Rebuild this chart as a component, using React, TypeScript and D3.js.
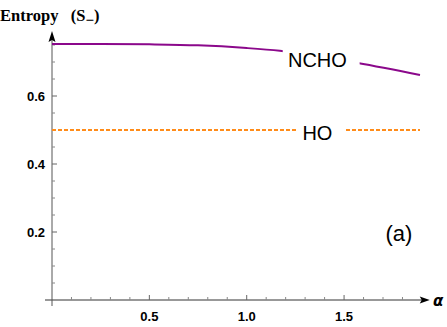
import React from "react";
import * as d3 from "d3";

// values
const alphaNCHO = [0, 0.25, 0.5, 0.75, 1.0, 1.17, 1.57, 1.89];
const entropyNCHO = [0.753, 0.753, 0.752, 0.749, 0.741, 0.733, 0.697, 0.662];
const alphaHO = [0, 1.89];
const entropyHO = [0.5, 0.5];
const xTicks = [0.5, 1.0, 1.5];
const yTicks = [0.2, 0.4, 0.6];

const W = 447;
const H = 327;

export default function App() {
  // scales: pixel positions of 0 on both axes come from the picture
  const x = d3.scaleLinear().domain([0, 1.89]).range([52, 420]);
  const y = d3.scaleLinear().domain([0, 0.6]).range([300, 96]);

  const curve = d3
    .line<number>()
    .x((_, i) => x(alphaNCHO[i]))
    .y((d) => y(d))
    .curve(d3.curveMonotoneX);
  const flat = d3
    .line<number>()
    .x((_, i) => x(alphaHO[i]))
    .y((d) => y(d));

  // label gaps cut out of the curves
  const nchoGap = [x(1.185), x(1.58)];
  const hoGap = [x(1.26), x(1.5)];

  const minorX = d3.range(0.1, 1.9, 0.1).filter((v) => Math.abs(v * 2 - Math.round(v * 2)) > 1e-6);
  const minorY = d3.range(0.05, 0.76, 0.05).filter((v) => Math.abs(v * 5 - Math.round(v * 5)) > 1e-6);

  const tickFont = "'Liberation Sans', Arial, sans-serif";

  return (
    <svg width={W} height={H} style={{ position: "absolute", left: 0, top: 0 }}>
      <defs>
        <clipPath id="ncho-clip">
          <rect x={0} y={0} width={nchoGap[0]} height={H} />
          <rect x={nchoGap[1]} y={0} width={W - nchoGap[1]} height={H} />
        </clipPath>
        <clipPath id="ho-clip">
          <rect x={0} y={0} width={hoGap[0]} height={H} />
          <rect x={hoGap[1]} y={0} width={W - hoGap[1]} height={H} />
        </clipPath>
      </defs>
      <rect width={W} height={H} fill="#fff" />

      {/* axes */}
      <line x1={45} x2={424} y1={y(0)} y2={y(0)} stroke="#333" strokeWidth={1} />
      <path d={`M${x(1.94)},${y(0)} l-10,-3.5 l2,3.5 l-2,3.5 z`} fill="#000" />
      <line x1={x(0)} x2={x(0)} y1={306} y2={40} stroke="#555" strokeWidth={1} />
      <path d={`M${x(0)},31 l-3.5,11 l3.5,-2 l3.5,2 z`} fill="#000" />

      {xTicks.map((t) => (
        <g key={"xt" + t}>
          <line x1={x(t)} x2={x(t)} y1={y(0)} y2={y(0) - 5} stroke="#666" />
          <text x={x(t)} y={y(0) + 21} textAnchor="middle" fontFamily={tickFont} fontWeight="bold" fontSize={13}>
            {t.toFixed(1)}
          </text>
        </g>
      ))}
      {minorX.map((t) => (
        <line key={"mx" + t} x1={x(t)} x2={x(t)} y1={y(0)} y2={y(0) - 3} stroke="#888" />
      ))}
      {yTicks.map((t) => (
        <g key={"yt" + t}>
          <line x1={x(0)} x2={x(0) + 5} y1={y(t)} y2={y(t)} stroke="#666" />
          <text x={45} y={y(t) + 5} textAnchor="end" fontFamily={tickFont} fontWeight="bold" fontSize={13}>
            {t.toFixed(1)}
          </text>
        </g>
      ))}
      {minorY.map((t) => (
        <line key={"my" + t} x1={x(0)} x2={x(0) + 3} y1={y(t)} y2={y(t)} stroke="#888" />
      ))}

      {/* curves */}
      <path d={curve(entropyNCHO) ?? ""} fill="none" stroke="#8b088b" strokeWidth={2} clipPath="url(#ncho-clip)" />
      <path
        d={flat(entropyHO) ?? ""}
        fill="none"
        stroke="#ff8c1a"
        strokeWidth={2}
        strokeDasharray="4,2"
        clipPath="url(#ho-clip)"
      />

      {/* labels */}
      <text x={x(1.363)} y={67} textAnchor="middle" fontFamily={tickFont} fontSize={20}>
        NCHO
      </text>
      <text x={x(1.363)} y={140} textAnchor="middle" fontFamily={tickFont} fontSize={20}>
        HO
      </text>
      <text x={399} y={241} textAnchor="middle" fontFamily={tickFont} fontSize={22}>
        (a)
      </text>
      <text x={433} y={306} fontFamily="'DejaVu Sans', sans-serif" fontStyle="italic" fontWeight="bold" fontSize={15}>
        α
      </text>
      <text x={0} y={21} fontFamily="'Liberation Serif', 'Times New Roman', serif" fontWeight="bold" fontSize={16.5}>
        Entropy{"\u00a0\u00a0\u00a0"}(S<tspan dy={4} fontSize={15}>−</tspan>
        <tspan dy={-4}>)</tspan>
      </text>
    </svg>
  );
}
